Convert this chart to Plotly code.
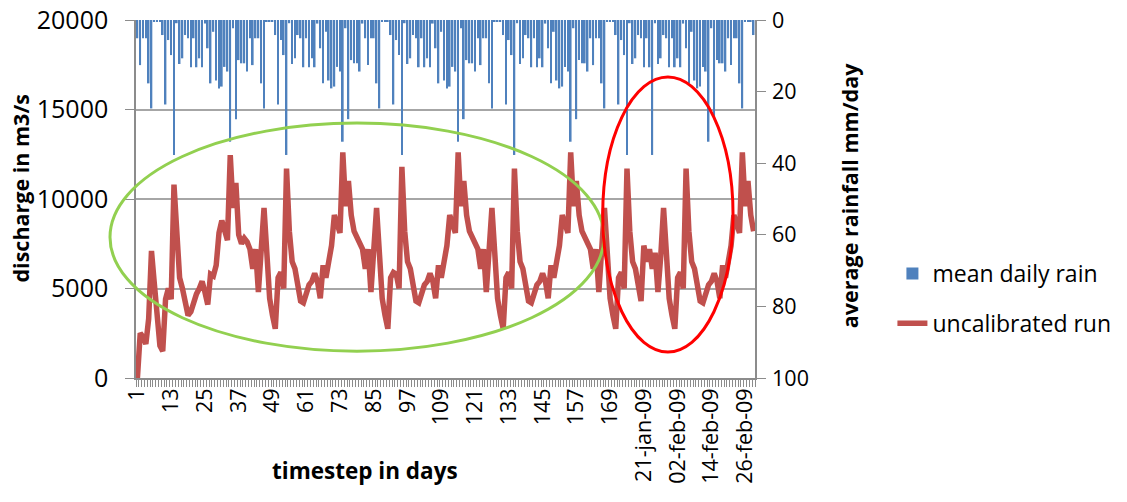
import plotly.graph_objects as go

# ---------------- data ----------------
days = list(range(1, 221))

# uncalibrated run discharge (m3/s), one value per day
discharge = [
    0, 2500, 2300, 1900, 3300, 7100, 5300, 3400, 1800, 1500,
    4400, 5000, 4400, 10800, 7800, 5600, 5000, 4100, 3500, 3700,
    4300, 4700, 5000, 5400, 4800, 4100, 5800, 5700, 6300, 8100,
    8800, 8300, 7700, 12450, 9500, 10900, 8000, 7500, 7800, 7600,
    7200, 6100, 7200, 4800, 6800, 9500, 7000, 4450, 3500, 2750,
    5600, 5900, 5000, 11700, 8200, 6500, 6100, 5200, 4300, 4200,
    4850, 5200, 5400, 5850, 5400, 4450, 6300, 5600, 6500, 7400,
    9100, 8700, 8100, 12600, 9600, 11000, 9100, 8200, 7800, 7600,
    7200, 6100, 7200, 4800, 6800, 9500, 7000, 4450, 3500, 2750,
    5600, 5900, 5800, 5000, 11800, 8200, 6500, 6100, 5200, 4300,
    4200, 4850, 5200, 5400, 5850, 5400, 4450, 6300, 5600, 6500,
    7400, 9100, 8700, 8100, 12600, 9600, 11000, 9100, 8200, 7800,
    7600,
    7200, 6100, 7200, 4800, 6800, 9500, 7000, 4450, 3500, 2750,
    5600, 5900, 5000, 11700, 8200, 6500, 6100, 5200, 4300, 4200,
    4850, 5200, 5400, 5850, 5400, 4450, 6300, 5600, 6500, 7400,
    9100, 8700, 8100, 12600, 9600, 11000, 9100, 8200, 7800, 7600,
    7200, 6100, 7200, 4800, 6800, 9500, 7000, 4450, 3500, 2750,
    5600, 5900, 5000, 11700, 8200, 6500, 6100, 5200, 4300,
    7400, 6500, 7200, 6100, 7000, 4800, 6800, 9500,
    7000, 4450, 3500, 2750, 5600, 5900, 5000, 11700, 8200, 6500,
    6100, 5200, 4300, 4200, 4850, 5200, 5400, 5850, 5400, 4450,
    6300, 5600, 6500, 7400, 9100, 8700, 8100, 12600, 9600, 11000,
    9100, 8200,
]

# mean daily rain (mm/day), one value per day
rain = [
    5.1, 12.6, 5.1, 5.1, 17.7, 24.7, 0.5, 0.5, 0.5, 4.2,
    23.6, 5.6, 9.8, 37.7, 0.9, 12.3, 10.7, 4.2, 5.1, 13.2,
    5.1, 13.2, 10.7, 13.2, 1.0, 7.9, 17.7, 3.3, 16.9, 19.1,
    18.6, 13.1, 14.4, 34.0, 2.3, 27.7, 11.2, 12.1, 12.1, 14.4,
    5.1, 12.6, 5.1, 5.1, 17.7, 24.7, 0.5, 0.5, 0.5, 4.2,
    23.6, 5.6, 9.8, 37.7, 0.9, 12.3, 10.7, 4.2, 5.1, 13.2,
    5.1, 13.2, 10.7, 13.2, 1.0, 7.9, 17.7, 3.3, 16.9, 19.1,
    18.6, 13.1, 14.4, 34.0, 2.3, 27.7, 11.2, 12.1, 12.1, 14.4,
    1.0,
    5.1, 12.6, 5.1, 5.1, 17.7, 24.7, 0.5, 0.5, 0.5, 4.2,
    23.6, 5.6, 9.8, 37.7, 0.9, 12.3, 10.7, 4.2, 5.1, 13.2,
    5.1, 13.2, 10.7, 13.2, 1.0, 7.9, 17.7, 3.3, 16.9, 19.1,
    18.6, 13.1, 14.4, 34.0, 2.3, 27.7, 11.2, 12.1, 12.1, 14.4,
    5.1, 12.6, 5.1, 5.1, 17.7, 24.7, 0.5, 0.5, 0.5, 4.2,
    23.6, 5.6, 9.8, 37.7, 0.9, 12.3, 10.7, 4.2, 5.1, 13.2,
    5.1, 13.2, 10.7, 13.2, 1.0, 7.9, 17.7, 3.3, 16.9, 19.1,
    18.6, 13.1, 14.4, 34.0, 2.3, 27.7, 11.2, 12.1, 12.1, 14.4,
    5.1, 12.6, 5.1, 5.1, 17.7, 24.7, 0.5, 0.5, 0.5, 4.2,
    23.6, 5.6, 9.8, 37.7, 0.9, 12.3, 10.7, 4.2, 5.1, 13.2,
    5.1, 13.2,
    37.7, 0.9, 12.3, 10.7, 4.2, 5.1, 13.2, 5.1, 13.2, 10.7,
    13.2, 1.0, 7.9, 17.7, 3.3, 16.9, 19.1, 18.6, 13.1, 14.4,
    34.0, 2.3, 27.7, 11.2, 12.1, 12.1, 14.4,
    5.1, 12.6, 5.1, 5.1, 17.7, 24.7, 0.5, 0.5, 0.5, 4.2,
]

tick_days = [1, 13, 25, 37, 49, 61, 73, 85, 97, 109, 121, 133, 145, 157, 169,
             181, 193, 205, 217]
tick_text = ["1", "13", "25", "37", "49", "61", "73", "85", "97", "109", "121",
             "133", "145", "157", "169", "21-jan-09", "02-feb-09", "14-feb-09",
             "26-feb-09"]

q_ticks = [0, 5000, 10000, 15000, 20000]
q_text = ["0", "5000", "10000", "15000", "20000"]
r_ticks = [0, 20, 40, 60, 80, 100]
r_text = ["0", "20", "40", "60", "80", "100"]

FONT = "'Open Sans', 'Noto Sans', sans-serif"
GRID = "#A6A6A6"
AXIS = "#8C8C8C"

fig = go.Figure()
fig.add_trace(go.Bar(
    x=days, y=rain, yaxis="y2", name="mean daily rain",
    marker=dict(color="#4F81BD", line=dict(width=0)), width=0.6,
    legendgroup="a",
))
fig.add_trace(go.Scatter(
    x=days, y=discharge, mode="lines", name="uncalibrated run",
    line=dict(color="#C0504D", width=5.5), legendgroup="b",
))

# highlight ellipses drawn on the figure (paper coordinates)
fig.add_shape(type="circle", xref="paper", yref="paper", layer="above",
              x0=-0.042, x1=0.756, y0=0.075, y1=0.712,
              line=dict(color="#92D050", width=3))
fig.add_shape(type="circle", xref="paper", yref="paper", layer="above",
              x0=0.754, x1=0.9645, y0=0.0726, y1=0.8408,
              line=dict(color="#FF0000", width=3))

fig.update_layout(
    width=1127, height=502,
    margin=dict(l=136, r=372, t=20, b=124, autoexpand=False),
    plot_bgcolor="white", paper_bgcolor="white",
    font=dict(family=FONT, size=22, color="#000000"),
    showlegend=True,
    legend=dict(x=1.222, y=0.352, xanchor="left", yanchor="top",
                font=dict(size=23), tracegroupgap=17,
                bgcolor="rgba(0,0,0,0)"),
    xaxis=dict(
        range=[0.5, 220.5], tickmode="array", tickvals=tick_days,
        ticktext=tick_text, tickangle=-90, ticks="",
        tickfont=dict(size=21.5), automargin=False,
        ticklabeloverflow="allow",
        showline=True, linecolor=AXIS, linewidth=1.5, mirror=False,
        showgrid=False, zeroline=False,
        minor=dict(tickmode="linear", tick0=0.5, dtick=1, ticks="outside",
                   ticklen=7, tickcolor=AXIS, tickwidth=1, showgrid=False),
    ),
    yaxis=dict(
        range=[0, 20000], tickmode="array", tickvals=q_ticks, ticktext=q_text,
        tickfont=dict(size=25), automargin=False, ticklabelstandoff=12,
        ticklabeloverflow="allow",
        showgrid=True, gridcolor=GRID, gridwidth=1.5,
        showline=True, linecolor=AXIS, linewidth=1.5,
        ticks="outside", ticklen=9, tickcolor=AXIS, zeroline=False,
    ),
    yaxis2=dict(
        overlaying="y", side="right", range=[100, 0], tickmode="array",
        tickvals=r_ticks, ticktext=r_text, tickfont=dict(size=21.5),
        automargin=False, ticklabelstandoff=2, ticklabeloverflow="allow",
        showgrid=False, showline=True, linecolor=AXIS, linewidth=1.5,
        ticks="outside", ticklen=9, tickcolor=AXIS, zeroline=False,
    ),
    annotations=[
        dict(text="<b>timestep in days</b>", xref="paper", yref="paper",
             x=0.37, y=-0.257, showarrow=False, font=dict(size=22.5),
             xanchor="center", yanchor="middle"),
        dict(text="<b>discharge in m3/s</b>", xref="paper", yref="paper",
             x=-0.187, y=0.53, textangle=-90, showarrow=False,
             font=dict(size=21.5), xanchor="center", yanchor="middle"),
        dict(text="<b>average rainfall mm/day</b>", xref="paper", yref="paper",
             x=1.153, y=0.51, textangle=-90, showarrow=False,
             font=dict(size=21.5), xanchor="center", yanchor="middle"),
    ],
)

# remove the browser's default 8px page margin so the figure fills the window
fig.write_html(
    "out.html",
    config={"displayModeBar": False},
    post_script="document.body.style.margin='0px';document.body.style.overflow='hidden';",
)
